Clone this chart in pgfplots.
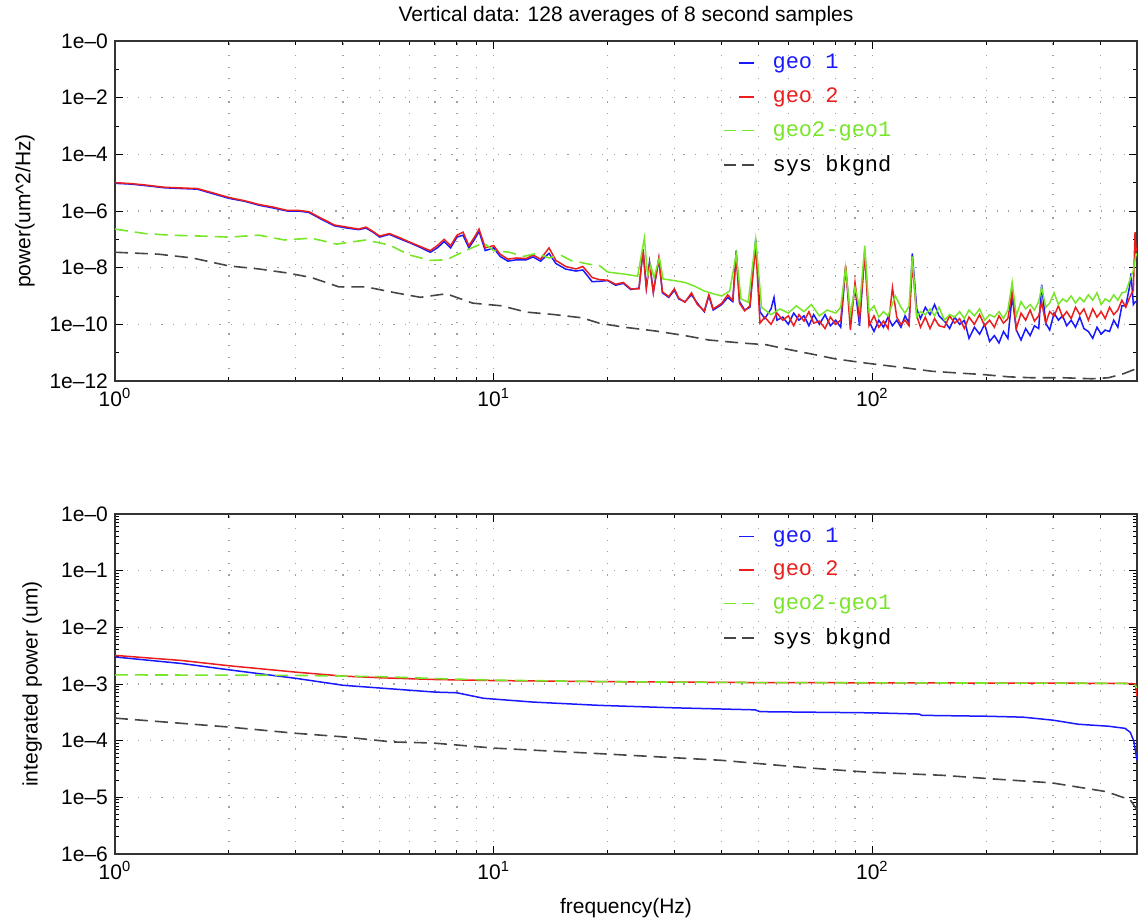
\documentclass[border=0pt]{standalone}
\usepackage{fontspec}
\setmainfont{Liberation Sans}
\setmonofont{Liberation Mono}
\usepackage{pgfplots}
\usepackage{pgfplotstable}
\pgfplotsset{compat=1.18}

\definecolor{geoblue}{RGB}{25,25,255}
\definecolor{geored}{RGB}{235,30,30}
\definecolor{geogreen}{RGB}{120,230,40}
\definecolor{bkgnd}{RGB}{70,70,70}

% ---- top panel: power spectra ----
\pgfplotstableread{
f p
1.00 9.5e-6
1.10 8.9e-6
1.20 7.9e-6
1.35 6.6e-6
1.50 6.2e-6
1.65 5.9e-6
1.80 4.2e-6
2.00 2.8e-6
2.20 2.2e-6
2.40 1.6e-6
2.60 1.3e-6
2.85 1.0e-6
3.05 1.0e-6
3.25 8.9e-7
3.50 5.2e-7
3.80 3.0e-7
4.10 2.5e-7
4.40 2.2e-7
4.60 2.5e-7
4.80 1.8e-7
5.00 1.2e-7
5.30 1.5e-7
5.60 1.1e-7
6.00 7.6e-8
6.40 5.2e-8
6.80 3.5e-8
7.10 5.0e-8
7.40 8.3e-8
7.70 5.0e-8
8.00 1.2e-7
8.30 1.4e-7
8.60 5.0e-8
8.90 1.0e-7
9.15 1.9e-7
9.50 4.0e-8
10.0 5.0e-8
10.4 2.5e-8
10.9 1.7e-8
11.5 1.9e-8
12.2 1.9e-8
12.7 2.4e-8
13.3 1.7e-8
14.0 3.2e-8
14.6 1.4e-8
15.5 8.9e-9
16.5 7.6e-9
17.2 8.3e-9
18.2 3.2e-9
19.0 3.3e-9
20.0 3.5e-9
21.0 2.4e-9
22.0 2.8e-9
23.0 1.7e-9
24.2 1.9e-9
24.8 4.0e-8
25.3 2.0e-9
25.8 1.6e-8
26.4 1.4e-9
27.3 2.0e-8
27.9 1.3e-9
29.0 8.9e-10
30.0 1.6e-9
30.8 7.9e-10
32.0 6.3e-10
33.3 1.1e-9
34.5 5.6e-10
36.0 2.8e-10
37.0 1.0e-9
38.0 3.2e-10
40.0 5.0e-10
41.5 8.9e-10
42.8 6.3e-10
43.7 4.0e-8
44.6 6.3e-10
46.0 3.2e-10
47.5 4.0e-10
49.2 1.0e-7
50.5 2.8e-10
52.0 1.6e-10
54.0 3.5e-10
55.0 8.9e-10
56.0 1.4e-10
58.0 1.8e-10
60.0 1.0e-10
62.0 2.5e-10
64.0 1.4e-10
66.0 2.0e-10
68.0 8.9e-11
70.0 2.2e-10
72.5 1.0e-10
75.0 2.2e-10
77.5 8.9e-11
80.0 1.4e-10
82.5 7.9e-11
85.0 1.0e-8
87.5 1.6e-10
90.0 2.0e-9
92.5 8.9e-11
95.5 4.0e-8
98.0 1.3e-10
101 5.6e-11
104 1.4e-10
107 7.9e-11
110 1.8e-10
113 8.9e-11
116 1.4e-10
119 7.9e-11
122 2.0e-10
125 1.1e-10
127.5 3.2e-8
131 3.5e-10
134 1.6e-10
138 4.0e-10
142 2.2e-10
146 5.0e-10
150 2.0e-10
155 1.3e-10
160 7.1e-11
165 1.8e-10
170 1.0e-10
175 1.4e-10
180 3.2e-11
186 7.9e-11
192 4.5e-11
198 1.0e-10
204 2.5e-11
210 4.0e-11
216 2.2e-11
222 5.6e-11
228 3.2e-11
234 1.0e-9
240 6.3e-11
247 2.8e-11
254 7.1e-11
261 4.0e-11
268 8.9e-11
275 7.1e-11
280 2.5e-9
287 1.1e-10
294 6.3e-11
302 2.5e-10
310 1.4e-10
318 2.0e-10
326 8.9e-11
335 1.4e-10
344 7.9e-11
353 1.8e-10
362 7.1e-11
372 5.6e-11
382 3.2e-11
392 7.9e-11
402 4.5e-11
412 6.3e-11
423 5.6e-11
434 1.4e-10
445 7.9e-11
456 4.5e-10
467 4.5e-10
478 2.2e-9
482 6.3e-9
489 5.0e-10
495 6.3e-10
500 6.3e-10
}\topblue

\pgfplotstableread{
f p
1.00 1.0e-5
1.10 9.3e-6
1.20 8.3e-6
1.35 6.9e-6
1.50 6.5e-6
1.65 6.2e-6
1.80 4.5e-6
2.00 3.0e-6
2.20 2.3e-6
2.40 1.7e-6
2.60 1.4e-6
2.85 1.05e-6
3.05 1.05e-6
3.25 9.5e-7
3.50 5.6e-7
3.80 3.2e-7
4.10 2.7e-7
4.40 2.3e-7
4.60 2.7e-7
4.80 1.9e-7
5.00 1.3e-7
5.30 1.6e-7
5.60 1.2e-7
6.00 8.0e-8
6.40 5.6e-8
6.80 4.0e-8
7.10 6.0e-8
7.40 1.0e-7
7.70 6.0e-8
8.00 1.4e-7
8.30 1.8e-7
8.60 6.0e-8
8.90 1.2e-7
9.15 2.3e-7
9.50 5.0e-8
10.0 6.0e-8
10.4 3.0e-8
10.9 2.0e-8
11.5 2.2e-8
12.2 2.1e-8
12.7 2.8e-8
13.3 2.0e-8
14.0 5.0e-8
14.6 1.8e-8
15.5 1.1e-8
16.5 9.0e-9
17.2 1.1e-8
18.2 4.5e-9
19.0 3.8e-9
20.0 3.6e-9
21.0 2.6e-9
22.0 3.0e-9
23.0 1.8e-9
24.2 1.8e-9
24.8 4.5e-8
25.3 1.9e-9
25.8 1.4e-8
26.4 1.3e-9
27.3 2.2e-8
27.9 1.4e-9
29.0 9.5e-10
30.0 1.8e-9
30.8 8.5e-10
32.0 6.0e-10
33.3 1.3e-9
34.5 5.0e-10
36.0 3.0e-10
37.0 1.1e-9
38.0 3.5e-10
40.0 5.5e-10
41.5 1.1e-9
42.8 7.0e-10
43.7 2.5e-8
44.6 5.5e-10
46.0 3.0e-10
47.5 4.5e-10
49.2 6.0e-8
50.5 1.1e-10
52.0 1.8e-10
54.0 1.0e-10
56.0 2.5e-10
58.0 1.4e-10
60.0 2.0e-10
62.0 8.9e-11
64.0 2.2e-10
66.0 1.3e-10
68.0 2.8e-10
70.0 1.1e-10
72.5 1.3e-10
75.0 7.1e-11
77.5 1.8e-10
80.0 1.0e-10
82.5 1.4e-10
85.0 1.2e-8
87.5 6.3e-11
90.0 3.0e-9
92.5 1.6e-10
95.5 3.0e-8
98.0 8.9e-11
101 2.0e-10
104 7.9e-11
107 1.3e-10
110 7.1e-11
113 2.0e-9
116 1.8e-10
119 1.0e-10
122 1.4e-10
125 8.9e-11
127.5 1.5e-8
131 2.0e-10
134 7.9e-11
138 1.8e-10
142 7.1e-11
146 1.6e-10
150 8.9e-11
155 7.9e-11
160 2.0e-10
165 1.1e-10
170 1.6e-10
175 7.1e-11
180 1.8e-10
186 1.0e-10
192 2.2e-10
198 8.9e-11
204 1.4e-10
210 7.9e-11
216 2.0e-10
222 1.1e-10
228 1.6e-10
234 1.5e-9
240 7.1e-11
247 2.5e-10
254 1.4e-10
261 3.2e-10
268 1.3e-10
275 2.0e-10
280 6.0e-10
287 1.1e-10
294 2.8e-10
302 2.0e-10
310 4.5e-10
318 1.8e-10
326 2.8e-10
335 1.6e-10
344 4.0e-10
353 2.2e-10
362 3.5e-10
372 1.4e-10
382 3.5e-10
392 1.8e-10
402 2.8e-10
412 1.6e-10
423 4.0e-10
434 2.2e-10
445 3.2e-10
456 7.1e-10
467 4.0e-10
478 8.9e-10
489 1.6e-9
494 1.8e-7
497 4.0e-8
500 5.0e-8
}\topred

\pgfplotstableread{
f p
1.00 2.3e-7
1.20 1.6e-7
1.40 1.4e-7
1.70 1.3e-7
2.00 1.2e-7
2.40 1.4e-7
2.80 9.5e-8
3.30 1.1e-7
3.85 6.8e-8
4.60 9.5e-8
5.30 6.3e-8
6.00 2.8e-8
6.80 1.8e-8
7.50 1.9e-8
8.50 4.2e-8
9.40 7.5e-8
10.0 4.0e-8
11.0 3.5e-8
12.0 2.5e-8
13.0 3.2e-8
14.0 2.2e-8
15.0 2.8e-8
16.0 1.8e-8
18.0 1.3e-8
19.0 1.2e-8
20.0 7.0e-9
}\topgreenlow

\pgfplotstableread{
f p
20.0 7.0e-9
22.0 6.0e-9
24.0 5.0e-9
25.0 1.1e-7
25.5 5.0e-9
26.0 1.2e-8
26.5 4.5e-9
27.4 2.2e-8
28.0 4.0e-9
30.0 3.5e-9
32.0 3.0e-9
34.0 2.2e-9
36.0 1.5e-9
38.0 1.2e-9
40.0 1.0e-9
42.0 1.5e-9
43.7 3.0e-8
45.0 8.0e-10
47.0 6.0e-10
49.2 1.0e-7
51.0 4.0e-10
54.0 2.2e-10
57.0 3.5e-10
60.0 2.5e-10
63.0 4.5e-10
66.0 2.8e-10
69.0 5.0e-10
72.5 2.0e-10
76.0 3.2e-10
80.0 2.5e-10
82.5 4.0e-10
85.0 1.0e-8
87.5 2.2e-10
90.0 2.0e-9
92.5 4.0e-10
95.5 6.0e-8
98.0 2.8e-10
101 4.5e-10
104 1.8e-10
107 2.8e-10
110 2.0e-10
115 1.0e-9
119 4.0e-10
122 2.5e-10
125 4.5e-10
127.5 2.5e-8
131 1.8e-10
134 2.8e-10
138 2.2e-10
142 3.5e-10
146 2.0e-10
150 4.0e-10
155 1.4e-10
160 2.2e-10
165 1.8e-10
170 2.8e-10
175 1.6e-10
180 3.2e-10
186 2.0e-10
192 3.5e-10
198 1.4e-10
204 2.2e-10
210 1.8e-10
216 2.8e-10
222 1.6e-10
228 3.2e-10
234 3.0e-9
240 2.0e-10
247 6.3e-10
254 3.5e-10
261 5.0e-10
268 3.2e-10
275 6.3e-10
280 2.0e-9
287 4.0e-10
294 5.6e-10
302 1.3e-9
310 5.0e-10
318 7.9e-10
326 6.3e-10
335 1.0e-9
344 5.6e-10
353 8.9e-10
362 6.3e-10
372 1.1e-9
382 7.1e-10
392 1.3e-9
402 5.0e-10
412 7.9e-10
423 6.3e-10
434 1.1e-9
445 7.1e-10
456 1.3e-9
467 1.4e-9
478 3.5e-9
489 7.9e-9
496 2.5e-8
500 3.2e-8
}\topgreenhigh

\pgfplotstableread{
f p
1.0 3.5e-8
1.3 3.0e-8
1.6 2.2e-8
2.0 1.15e-8
2.4 9.0e-9
2.85 6.5e-9
3.3 4.5e-9
3.9 2.1e-9
4.6 2.1e-9
5.5 1.3e-9
6.4 9.0e-10
7.5 1.2e-9
8.8 5.6e-10
10.5 4.5e-10
12.2 2.7e-10
14.5 2.2e-10
17.1 1.7e-10
19.0 1.1e-10
22.0 8.0e-11
26.8 5.8e-11
32.0 4.0e-11
37.0 2.8e-11
45.0 2.2e-11
52.5 1.9e-11
60.0 1.3e-11
69.0 9.0e-12
80.0 6.0e-12
96.0 4.3e-12
120 3.0e-12
144 2.2e-12
170 1.9e-12
195 1.7e-12
230 1.4e-12
264 1.3e-12
320 1.3e-12
380 1.2e-12
420 1.3e-12
460 1.8e-12
490 2.5e-12
500 2.0e-12
}\topbk

% ---- bottom panel: integrated power ----
\pgfplotstableread{
f p
1.0 3.0e-3
1.5 2.3e-3
2.0 1.78e-3
3.0 1.26e-3
4.0 9.5e-4
5.0 8.5e-4
7.0 7.2e-4
8.0 7.0e-4
9.4 5.6e-4
12.7 4.8e-4
19.0 4.2e-4
30.0 3.8e-4
49.0 3.5e-4
50.5 3.25e-4
100 3.1e-4
133 2.95e-4
135 2.8e-4
200 2.7e-4
250 2.6e-4
300 2.3e-4
350 1.95e-4
420 1.8e-4
465 1.65e-4
480 1.4e-4
490 1.0e-4
500 4.5e-5
}\botblue

\pgfplotstableread{
f p
1.0 3.2e-3
1.5 2.6e-3
2.0 2.1e-3
3.0 1.62e-3
4.0 1.38e-3
5.0 1.29e-3
7.0 1.2e-3
10.0 1.15e-3
20.0 1.1e-3
50.0 1.06e-3
100 1.05e-3
200 1.04e-3
400 1.03e-3
480 1.02e-3
495 1.0e-3
500 6.0e-4
}\botred

\pgfplotstableread{
f p
1.0 1.45e-3
3.0 1.42e-3
5.0 1.35e-3
7.0 1.25e-3
10.0 1.17e-3
20.0 1.1e-3
50.0 1.06e-3
100 1.05e-3
200 1.04e-3
400 1.03e-3
490 1.02e-3
500 8.5e-4
}\botgreen

\pgfplotstableread{
f p
1.0 2.5e-4
2.0 1.74e-4
3.0 1.35e-4
4.0 1.17e-4
5.4 9.5e-5
6.9 9.1e-5
10.0 7.4e-5
20.0 5.8e-5
40.0 4.5e-5
68.0 3.3e-5
96.0 2.8e-5
153 2.45e-5
211 2.1e-5
298 1.8e-5
415 1.26e-5
480 9.0e-6
500 6.0e-6
}\botbk

\begin{document}
\begin{tikzpicture}
\path[use as bounding box] (-57.5pt,-34pt) rectangle (512pt,427pt);

\begin{axis}[at={(0,236.5pt)},
  width=511pt, height=170pt, scale only axis,
  xmode=log, ymode=log, xmin=1, xmax=500,
  xtick={1,10,100},
  xticklabels={10\textsuperscript{0},10\textsuperscript{1},10\textsuperscript{2}},
  minor xtick={2,3,4,5,6,7,8,9,20,30,40,50,60,70,80,90,200,300,400},
  xmajorgrids, xminorgrids, ymajorgrids,
  grid style={gray!75, line width=0.55pt, dash pattern=on 0.6pt off 5.2pt},
  axis line style={black!80, line width=0.7pt},
  tick style={black, line width=0.5pt},
  major tick length=4pt, minor tick length=2.2pt,
  tick align=inside,
  tick label style={font=\fontsize{10.5}{12}\selectfont},
  legend style={draw=none, fill=none, at={(0.589,0.985)}, anchor=north west,
    font=\ttfamily\fontsize{11}{13}\selectfont, row sep=4pt},
  legend cell align=left,
  ymin=1e-12, ymax=1,
  ytick={1e-12,1e-10,1e-8,1e-6,1e-4,1e-2,1},
  yticklabels={1e--12,1e--10,1e--8,1e--6,1e--4,1e--2,1e--0},
  minor ytick={1e-11,1e-9,1e-7,1e-5,1e-3,1e-1},
  title={Vertical data: 128 averages of 8 second samples},
  title style={font=\fontsize{10.5}{12}\selectfont, yshift=-2pt},
  ylabel={power(um\textasciicircum 2/Hz)},
  ylabel style={font=\fontsize{10.5}{12}\selectfont, at={(axis description cs:-0.088,0.5)}, anchor=center},
]
\addplot[geoblue, line width=0.75pt, forget plot] table {\topblue};
\addplot[geored, line width=0.75pt, forget plot] table {\topred};
\addplot[geogreen, line width=0.8pt, dash pattern=on 6.5pt off 3.5pt, forget plot] table {\topgreenlow};
\addplot[bkgnd, line width=0.8pt, dash pattern=on 6.5pt off 3.5pt, forget plot] table {\topbk};
\addplot[geogreen, line width=0.75pt, forget plot] table {\topgreenhigh};
\addlegendimage{legend image code/.code={\draw[geoblue, line width=0.75pt] (7.5pt,0pt) -- (15pt,0pt); \path (22pt,0pt);}}
\addlegendentry{\textcolor{geoblue}{geo 1}}
\addlegendimage{legend image code/.code={\draw[geored, line width=0.75pt] (7.5pt,0pt) -- (15pt,0pt); \path (22pt,0pt);}}
\addlegendentry{\textcolor{geored}{geo 2}}
\addlegendimage{legend image code/.code={\draw[geogreen, line width=0.8pt, dash pattern=on 6pt off 3pt] (0pt,0pt) -- (15pt,0pt); \path (22pt,0pt);}}
\addlegendentry{\textcolor{geogreen}{geo2-geo1}}
\addlegendimage{legend image code/.code={\draw[bkgnd, line width=0.8pt, dash pattern=on 6pt off 3pt] (0pt,0pt) -- (15pt,0pt); \path (22pt,0pt);}}
\addlegendentry{\textcolor{black}{sys bkgnd}}
\end{axis}

\begin{axis}[at={(0,0)},
  width=511pt, height=170pt, scale only axis,
  xmode=log, ymode=log, xmin=1, xmax=500,
  xtick={1,10,100},
  xticklabels={10\textsuperscript{0},10\textsuperscript{1},10\textsuperscript{2}},
  minor xtick={2,3,4,5,6,7,8,9,20,30,40,50,60,70,80,90,200,300,400},
  xmajorgrids, xminorgrids, ymajorgrids,
  grid style={gray!75, line width=0.55pt, dash pattern=on 0.6pt off 5.2pt},
  axis line style={black!80, line width=0.7pt},
  tick style={black, line width=0.5pt},
  major tick length=4pt, minor tick length=2.2pt,
  tick align=inside,
  tick label style={font=\fontsize{10.5}{12}\selectfont},
  legend style={draw=none, fill=none, at={(0.589,0.985)}, anchor=north west,
    font=\ttfamily\fontsize{11}{13}\selectfont, row sep=4pt},
  legend cell align=left,
  ymin=1e-6, ymax=1,
  ytick={1e-6,1e-5,1e-4,1e-3,1e-2,1e-1,1},
  yticklabels={1e--6,1e--5,1e--4,1e--3,1e--2,1e--1,1e--0},
  xlabel={frequency(Hz)},
  xlabel style={font=\fontsize{10.5}{12}\selectfont, yshift=-2.5pt},
  ylabel={integrated power (um)},
  ylabel style={font=\fontsize{10.5}{12}\selectfont, at={(axis description cs:-0.081,0.5)}, anchor=center},
]
\addplot[geoblue, line width=0.75pt, forget plot] table {\botblue};
\addplot[geored, line width=0.75pt, forget plot] table {\botred};
\addplot[geogreen, line width=0.8pt, dash pattern=on 6.5pt off 3.5pt, forget plot] table {\botgreen};
\addplot[bkgnd, line width=0.8pt, dash pattern=on 6.5pt off 3.5pt, forget plot] table {\botbk};
\addlegendimage{legend image code/.code={\draw[geoblue, line width=0.75pt] (7.5pt,0pt) -- (15pt,0pt); \path (22pt,0pt);}}
\addlegendentry{\textcolor{geoblue}{geo 1}}
\addlegendimage{legend image code/.code={\draw[geored, line width=0.75pt] (7.5pt,0pt) -- (15pt,0pt); \path (22pt,0pt);}}
\addlegendentry{\textcolor{geored}{geo 2}}
\addlegendimage{legend image code/.code={\draw[geogreen, line width=0.8pt, dash pattern=on 6pt off 3pt] (0pt,0pt) -- (15pt,0pt); \path (22pt,0pt);}}
\addlegendentry{\textcolor{geogreen}{geo2-geo1}}
\addlegendimage{legend image code/.code={\draw[bkgnd, line width=0.8pt, dash pattern=on 6pt off 3pt] (0pt,0pt) -- (15pt,0pt); \path (22pt,0pt);}}
\addlegendentry{\textcolor{black}{sys bkgnd}}
\end{axis}
\end{tikzpicture}
\end{document}
